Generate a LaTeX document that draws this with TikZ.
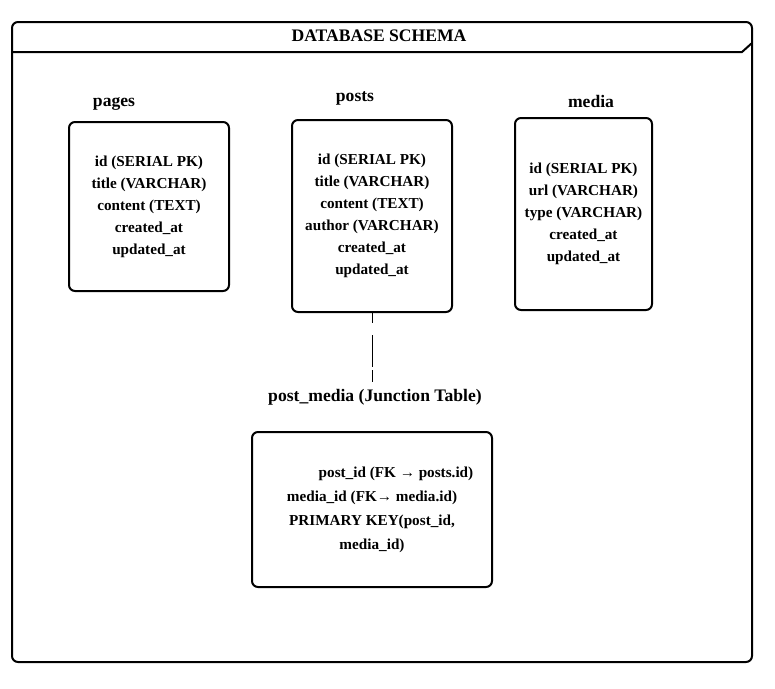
\documentclass[tikz,border=0pt]{standalone}
\usepackage{fontspec}
\setmainfont{Liberation Serif}
\begin{document}
\begin{tikzpicture}[x=0.75pt,y=-0.75pt,
  tablebox/.style={draw=black,line width=1.5pt,rounded corners=4.5pt,inner sep=0pt,align=center,
    font=\bfseries\fontsize{11.4}{16.5}\selectfont},
  tlabel/.style={inner sep=0pt,font=\bfseries\fontsize{13.2}{15}\selectfont},
  framebox/.style={draw=black,line width=1.5pt,rounded corners=4.5pt}]
\useasboundingbox (0,0) rectangle (775,689);
\draw[framebox] (12,22) rectangle (752,662);
\coordinate (hl) at (12,52);
\coordinate (hm) at (742,52);
\coordinate (hr) at (752,43);
\draw[line width=1.5pt] (hl) -- (hm) -- (hr);
\node[tlabel] (title) at (379,36) {DATABASE SCHEMA};

\node[tlabel] (pageslbl) at (114,103.5) {pages};
\node[tlabel] (postslbl) at (355,98.5) {posts};
\node[tlabel] (medialbl) at (591,101.5) {media};

\node[tablebox,minimum width=120pt,minimum height=126.75pt] (pages) at (149,206.5)
  {id (SERIAL PK)\\title (VARCHAR)\\content (TEXT)\\created\_at\\updated\_at};
\node[tablebox,minimum width=120pt,minimum height=144pt] (posts) at (372,216)
  {id (SERIAL PK)\\title (VARCHAR)\\content (TEXT)\\author (VARCHAR)\\created\_at\\updated\_at};
\node[tablebox,minimum width=102.75pt,minimum height=144pt] (media) at (583.5,214)
  {id (SERIAL PK)\\url (VARCHAR)\\type (VARCHAR)\\created\_at\\updated\_at};

\node[tlabel] (pmlbl) at (375,397.5) {post\_media (Junction Table)};
\node[tablebox,minimum width=180pt,minimum height=116.25pt,font=\bfseries\fontsize{11.4}{18}\selectfont] (pm) at (372,509.5)
  {\hspace*{36pt}post\_id (FK → posts.id)\\media\_id (FK→ media.id)\\PRIMARY KEY(post\_id,\\media\_id)};

\draw[line width=0.75pt,dash pattern=on 7.5pt off 9pt on 24pt off 2.25pt on 9pt]
  (posts.south) -- ([yshift=3pt]posts.south |- pmlbl.north);
\end{tikzpicture}
\end{document}
